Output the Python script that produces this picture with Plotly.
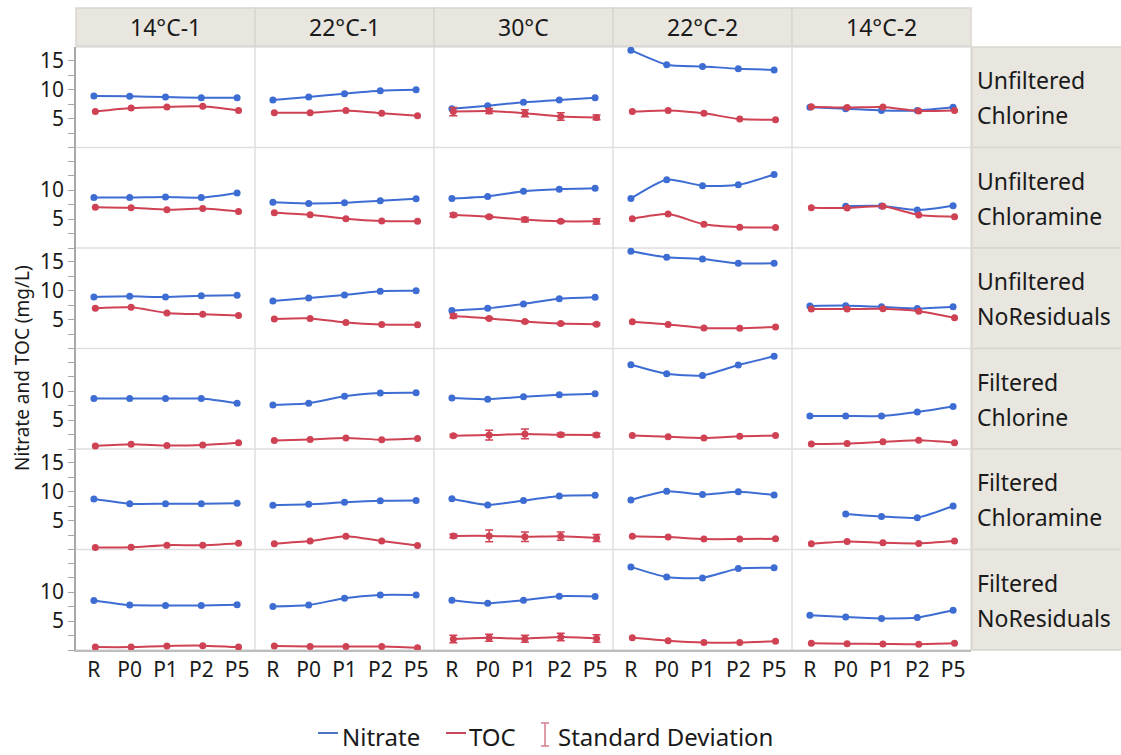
import plotly.graph_objects as go
from plotly.subplots import make_subplots

# ---------------- data ----------------
SAMPLES = ["R", "P0", "P1", "P2", "P5"]
SITES = ["14°C-1", "22°C-1", "30°C", "22°C-2", "14°C-2"]
CONDITIONS = [("Unfiltered", "Chlorine"), ("Unfiltered", "Chloramine"),
              ("Unfiltered", "NoResiduals"), ("Filtered", "Chlorine"),
              ("Filtered", "Chloramine"), ("Filtered", "NoResiduals")]

# Nitrate (mg/L); each inner list follows SITES order, values follow SAMPLES
NITRATE_UNF_CHLORINE = [[8.9, 8.85, 8.7, 8.6, 8.6], [8.2, 8.7, 9.3, 9.8, 9.95],
                        [6.7, 7.2, 7.8, 8.2, 8.6], [16.8, 14.3, 14.0, 13.6, 13.4],
                        [6.95, 6.7, 6.4, 6.4, 6.95]]
NITRATE_UNF_CHLORAMINE = [[8.7, 8.7, 8.8, 8.7, 9.5], [7.9, 7.7, 7.8, 8.15, 8.5],
                          [8.55, 8.9, 9.8, 10.15, 10.3], [8.55, 11.8, 10.75, 10.9, 12.7],
                          [None, 7.2, 7.25, 6.55, 7.3]]
NITRATE_UNF_NORES = [[8.9, 9.0, 8.9, 9.1, 9.2], [8.2, 8.7, 9.25, 9.9, 9.95],
                     [6.55, 6.95, 7.7, 8.6, 8.85], [16.8, 15.75, 15.45, 14.7, 14.7],
                     [7.35, 7.4, 7.2, 6.9, 7.2]]
NITRATE_FIL_CHLORINE = [[8.7, 8.7, 8.7, 8.7, 7.9], [7.6, 7.9, 9.1, 9.65, 9.7],
                        [8.8, 8.6, 9.0, 9.35, 9.55], [14.55, 13.0, 12.7, 14.5, 16.0],
                        [5.7, 5.7, 5.7, 6.4, 7.35]]
NITRATE_FIL_CHLORAMINE = [[8.7, 7.9, 7.9, 7.9, 8.0], [7.65, 7.8, 8.15, 8.4, 8.45],
                          [8.75, 7.7, 8.45, 9.25, 9.35], [8.55, 10.05, 9.5, 9.95, 9.4],
                          [None, 6.15, 5.7, 5.5, 7.5]]
NITRATE_FIL_NORES = [[8.55, 7.75, 7.7, 7.7, 7.8], [7.5, 7.75, 8.95, 9.5, 9.5],
                     [8.6, 8.05, 8.6, 9.3, 9.25], [14.35, 12.6, 12.45, 14.05, 14.2],
                     [6.0, 5.7, 5.45, 5.6, 6.85]]

# TOC (mg/L)
TOC_UNF_CHLORINE = [[6.2, 6.8, 7.0, 7.1, 6.4], [6.0, 6.0, 6.4, 5.9, 5.5],
                    [6.2, 6.3, 5.9, 5.35, 5.2], [6.2, 6.4, 5.9, 4.9, 4.8],
                    [7.05, 6.9, 7.0, 6.3, 6.4]]
TOC_UNF_CHLORAMINE = [[7.05, 6.95, 6.6, 6.8, 6.3], [6.1, 5.75, 5.05, 4.65, 4.6],
                      [5.7, 5.4, 4.9, 4.6, 4.6], [5.05, 5.85, 4.1, 3.6, 3.55],
                      [6.95, 6.9, 7.2, 5.7, 5.4]]
TOC_UNF_NORES = [[6.95, 7.1, 6.15, 5.9, 5.7], [5.1, 5.2, 4.5, 4.15, 4.1],
                 [5.6, 5.2, 4.65, 4.3, 4.2], [4.6, 4.15, 3.55, 3.5, 3.7],
                 [6.8, 6.8, 6.85, 6.45, 5.3]]
TOC_FIL_CHLORINE = [[0.5, 0.8, 0.6, 0.7, 1.1], [1.45, 1.65, 1.9, 1.6, 1.8],
                    [2.3, 2.4, 2.6, 2.45, 2.4], [2.35, 2.1, 1.9, 2.2, 2.35],
                    [0.85, 0.95, 1.25, 1.5, 1.1]]
TOC_FIL_CHLORAMINE = [[0.35, 0.4, 0.75, 0.75, 1.1], [1.0, 1.45, 2.3, 1.45, 0.7],
                      [2.35, 2.35, 2.2, 2.3, 2.0], [2.3, 2.15, 1.8, 1.8, 1.85],
                      [1.0, 1.4, 1.15, 1.05, 1.45]]
TOC_FIL_NORES = [[0.5, 0.5, 0.7, 0.75, 0.5], [0.7, 0.6, 0.6, 0.6, 0.4],
                 [1.9, 2.1, 1.95, 2.25, 2.0], [2.1, 1.6, 1.3, 1.3, 1.5],
                 [1.15, 1.1, 1.05, 1.0, 1.15]]

# TOC standard deviation (only the 30°C site has replicates)
TOC_SD_30C = [[0.7, 0.45, 0.6, 0.65, 0.4], [0.3, 0.2, 0.35, 0.2, 0.45],
              [0.35, 0.15, 0.15, 0.15, 0.2], [0.2, 0.85, 0.85, 0.3, 0.3],
              [0.3, 1.0, 0.8, 0.7, 0.6], [0.65, 0.6, 0.6, 0.65, 0.65]]
SD_SITE = "30°C"

NITRATE_ROWS = [NITRATE_UNF_CHLORINE, NITRATE_UNF_CHLORAMINE, NITRATE_UNF_NORES,
                NITRATE_FIL_CHLORINE, NITRATE_FIL_CHLORAMINE, NITRATE_FIL_NORES]
TOC_ROWS = [TOC_UNF_CHLORINE, TOC_UNF_CHLORAMINE, TOC_UNF_NORES,
            TOC_FIL_CHLORINE, TOC_FIL_CHLORAMINE, TOC_FIL_NORES]

# ---------------- style ----------------
W, H = 1121, 755
L, R, T, B = 76, 150, 47, 105
PW, PH = W - L - R, H - T - B
BLUE = "#3d6cd3"
RED = "#cf4254"
FONT = "Noto Sans"
TXT = "#1a1a1a"
STRIP = "#e8e6de"
GRID = "#dedede"
YMAX = 17.35

NR, NC = len(CONDITIONS), len(SITES)
fig = make_subplots(rows=NR, cols=NC, horizontal_spacing=0, vertical_spacing=0)

xs = list(range(len(SAMPLES)))
for r in range(NR):
    for c in range(NC):
        fig.add_trace(go.Scatter(
            x=xs, y=NITRATE_ROWS[r][c], mode="lines+markers",
            line=dict(color=BLUE, width=2, shape="spline", smoothing=0.6),
            marker=dict(color=BLUE, size=7), cliponaxis=False,
            showlegend=False, hoverinfo="y"), row=r + 1, col=c + 1)
        err = None
        if SITES[c] == SD_SITE:
            err = dict(type="data", array=TOC_SD_30C[r], color=RED,
                       thickness=1.5, width=4, visible=True)
        fig.add_trace(go.Scatter(
            x=[x + 0.04 for x in xs], y=TOC_ROWS[r][c], mode="lines+markers",
            line=dict(color=RED, width=2, shape="spline", smoothing=0.6),
            marker=dict(color=RED, size=7), cliponaxis=False, error_y=err,
            showlegend=False, hoverinfo="y"), row=r + 1, col=c + 1)

ytv = [0, 2.5, 5, 7.5, 10, 12.5, 15]
for r in range(NR):
    ytt = ["", "", "5", "", "10", "", "15" if r % 2 == 0 else ""]
    for c in range(NC):
        fig.update_yaxes(range=[0, YMAX], showgrid=False, zeroline=False,
                         showline=(c == 0), linecolor="#a8a8a8", linewidth=1.5,
                         ticks="outside" if c == 0 else "", ticklen=6,
                         tickcolor="#a8a8a8", tickwidth=1,
                         tickvals=ytv, ticktext=ytt, showticklabels=(c == 0),
                         tickfont=dict(family=FONT, size=21, color=TXT),
                         row=r + 1, col=c + 1)
        fig.update_xaxes(range=[-0.5, 4.5], showgrid=False, zeroline=False,
                         showline=(r == NR - 1), linecolor="#bdbdbd", linewidth=1.5,
                         tickvals=xs, ticktext=SAMPLES,
                         showticklabels=(r == NR - 1), ticks="",
                         tickfont=dict(family=FONT, size=21, color=TXT),
                         row=r + 1, col=c + 1)

shapes = []
annotations = []

def px_x(p):
    return (p - L) / PW

def px_y(p):
    return (T + PH - p) / PH

# panel separators
for c in range(1, NC + 1):
    shapes.append(dict(type="line", xref="paper", yref="paper", x0=c / NC, x1=c / NC,
                       y0=0, y1=1, line=dict(color=GRID, width=1.5), layer="below"))
for r in range(0, NR):
    shapes.append(dict(type="line", xref="paper", yref="paper", x0=0, x1=1,
                       y0=r / NR, y1=r / NR, line=dict(color=GRID, width=1.5), layer="below"))
shapes.append(dict(type="line", xref="paper", yref="paper", x0=0, x1=1, y0=1, y1=1,
                   line=dict(color=GRID, width=1.5), layer="below"))

# top strips
for c, s in enumerate(SITES):
    shapes.append(dict(type="rect", xref="paper", yref="paper",
                       x0=c / NC, x1=(c + 1) / NC, y0=px_y(46), y1=px_y(8),
                       fillcolor=STRIP, line=dict(color="#d8d6ce", width=1.5)))
    annotations.append(dict(text=s, x=(c + 0.5) / NC, y=px_y(27), xref="paper",
                            yref="paper", showarrow=False, xanchor="center",
                            yanchor="middle",
                            font=dict(family=FONT, size=23, color=TXT)))

# right strips
for r, (a, b) in enumerate(CONDITIONS):
    y0 = 1 - (r + 1) / NR
    y1 = 1 - r / NR
    shapes.append(dict(type="rect", xref="paper", yref="paper",
                       x0=px_x(972), x1=px_x(W + 2), y0=y0, y1=y1,
                       fillcolor=STRIP, line=dict(color="#d8d6ce", width=1.5)))
    ymid = (y0 + y1) / 2
    annotations.append(dict(text=a, x=px_x(975), y=ymid + 17 / PH, xref="paper",
                            yref="paper", showarrow=False, xanchor="left",
                            yanchor="middle", font=dict(family=FONT, size=23, color=TXT)))
    annotations.append(dict(text=b, x=px_x(975), y=ymid - 18 / PH, xref="paper",
                            yref="paper", showarrow=False, xanchor="left",
                            yanchor="middle", font=dict(family=FONT, size=23, color=TXT)))

# y title
annotations.append(dict(text="Nitrate and TOC (mg/L)", x=px_x(22), y=px_y(368),
                        xref="paper", yref="paper", showarrow=False, textangle=-90,
                        xanchor="center", yanchor="middle",
                        font=dict(family=FONT, size=19, color=TXT)))

# legend (manual)
ly = px_y(733)
shapes.append(dict(type="line", xref="paper", yref="paper", x0=px_x(318), x1=px_x(338),
                   y0=ly, y1=ly, line=dict(color="#4a74c6", width=2)))
annotations.append(dict(text="Nitrate", x=px_x(340), y=px_y(736), xref="paper",
                        yref="paper", showarrow=False, xanchor="left", yanchor="middle",
                        font=dict(family=FONT, size=24, color=TXT)))
shapes.append(dict(type="line", xref="paper", yref="paper", x0=px_x(446), x1=px_x(466),
                   y0=ly, y1=ly, line=dict(color="#c9485c", width=2)))
annotations.append(dict(text="TOC", x=px_x(467), y=px_y(736), xref="paper",
                        yref="paper", showarrow=False, xanchor="left", yanchor="middle",
                        font=dict(family=FONT, size=24, color=TXT)))
sdc = "#d27c8c"
shapes.append(dict(type="line", xref="paper", yref="paper", x0=px_x(545), x1=px_x(545),
                   y0=px_y(746), y1=px_y(723), line=dict(color=sdc, width=1.5)))
shapes.append(dict(type="line", xref="paper", yref="paper", x0=px_x(541), x1=px_x(549),
                   y0=px_y(723), y1=px_y(723), line=dict(color=sdc, width=1.5)))
shapes.append(dict(type="line", xref="paper", yref="paper", x0=px_x(541), x1=px_x(549),
                   y0=px_y(746), y1=px_y(746), line=dict(color=sdc, width=1.5)))
annotations.append(dict(text="Standard Deviation", x=px_x(556), y=px_y(736),
                        xref="paper", yref="paper", showarrow=False, xanchor="left",
                        yanchor="middle", font=dict(family=FONT, size=24, color=TXT)))

fig.update_layout(width=W, height=H, margin=dict(l=L, r=R, t=T, b=B, pad=0),
                  paper_bgcolor="white", plot_bgcolor="white",
                  shapes=shapes, annotations=annotations, showlegend=False,
                  font=dict(family=FONT, color=TXT))

fig.write_html("out.html")
